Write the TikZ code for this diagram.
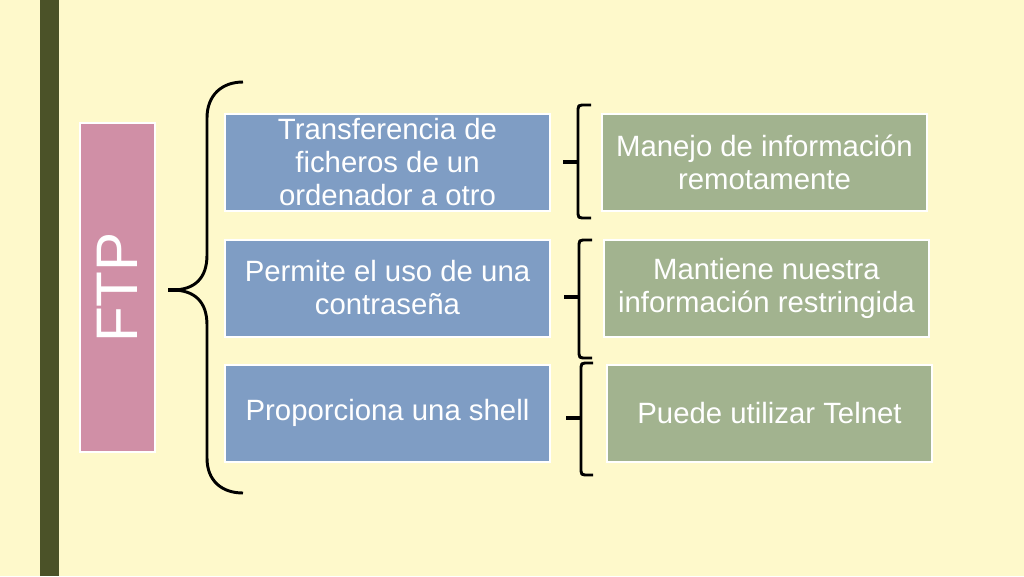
\documentclass[tikz,border=0pt]{standalone}
\usepackage{fontspec}
\setmainfont{Liberation Sans}
\definecolor{bgyellow}{HTML}{FEF9CB}
\definecolor{barolive}{HTML}{4B5228}
\definecolor{boxblue}{HTML}{7F9DC4}
\definecolor{boxgreen}{HTML}{A2B38F}
\definecolor{boxpink}{HTML}{D08FA6}
\tikzset{
  itembox/.style={draw=white, line width=1.5pt, inner sep=2pt, text=white, align=center,
    minimum width=243.75pt, minimum height=72.75pt,
    font=\fontsize{22}{24.75}\selectfont},
  bluebox/.style={itembox, fill=boxblue},
  greenbox/.style={itembox, fill=boxgreen},
  bracestroke/.style={draw=black, line width=2.2pt, line cap=butt, line join=round},
  bracetick/.style={draw=black, line width=3.5pt}
}
\begin{document}
\begin{tikzpicture}[x=0.75pt, y=-0.75pt]
\useasboundingbox (0,0) rectangle (1024,576);
\fill[bgyellow] (0,0) rectangle (1024,576);
\fill[barolive] (40,0) rectangle (59,576);

% FTP box
\node[draw=white, line width=1.5pt, fill=boxpink, minimum width=56.25pt, minimum height=246.75pt, inner sep=0pt] (ftp) at (117.5,287.5) {};
\node[text=white, rotate=90, font=\fontsize{44}{50}\selectfont, inner sep=0pt] (ftplabel) at (ftp.center) {FTP};

% blue boxes
\node[bluebox] (b1) at (387.5,162.5) {Transferencia de\\ficheros de un\\ordenador a otro};
\node[bluebox] (b2) at (387.5,288) {Permite el uso de una\\contraseña};
\node[bluebox] (b3) at (387.5,413) {Proporciona una shell};

% green boxes
\node[greenbox] (g1) at (764.5,162.5) {Manejo de información\\remotamente};
\node[greenbox] (g2) at (766.5,288) {Mantiene nuestra\\información restringida};
\node[greenbox] (g3) at (769.5,413.5) {Puede utilizar Telnet};

% big brace
\draw[bracestroke] (243,82) .. controls (222,82) and (207,95) .. (207,118)
  -- (207,255) .. controls (207,278) and (195,290) .. (172,290)
  .. controls (195,290) and (207,302) .. (207,325)
  -- (207,458) .. controls (207,481) and (222,493) .. (243,493);
\draw[bracetick] (168,290) -- (180,290);

% small braces
\draw[bracestroke] (591,105) -- (582,105) .. controls (579,105) and (578,106) .. (578,109)
  -- (578,214) .. controls (578,217) and (579,218) .. (582,218) -- (591,218);
\draw[bracetick] (563,162) -- (578,162);

\draw[bracestroke] (592,240) -- (583,240) .. controls (580,240) and (579,241) .. (579,244)
  -- (579,354) .. controls (579,357) and (580,358) .. (583,358) -- (592,358);
\draw[bracetick] (564,297) -- (579,297);

\draw[bracestroke] (593,363) -- (585,363) .. controls (582,363) and (581,364) .. (581,367)
  -- (581,471) .. controls (581,474) and (582,475) .. (585,475) -- (593,475);
\draw[bracetick] (566,418) -- (581,418);
\end{tikzpicture}
\end{document}
